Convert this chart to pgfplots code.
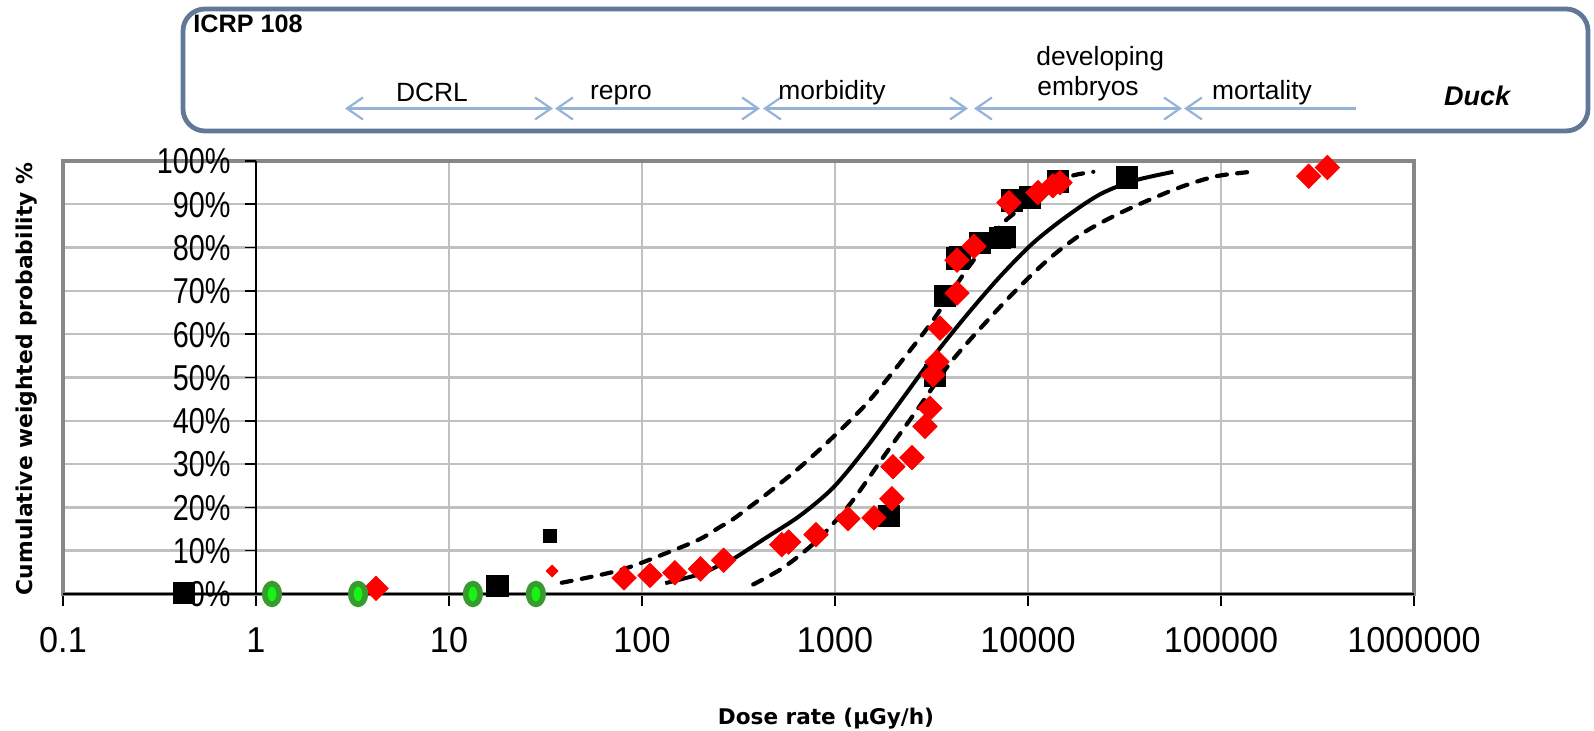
\documentclass[border=0pt]{standalone}
\usepackage{fontspec}
\usepackage{pgfplots}
\pgfplotsset{compat=1.18}
\usetikzlibrary{arrows.meta}
\setmainfont{Liberation Sans}
\newfontfamily\ytickfont[FakeStretch=0.8]{Liberation Sans}
\newfontfamily\xtickfont[FakeStretch=0.95]{Liberation Sans}
\newfontfamily\labelfont{DejaVu Sans}
\definecolor{framegray}{RGB}{135,135,135}
\definecolor{gridgray}{RGB}{192,192,192}
\definecolor{boxblue}{RGB}{98,120,152}
\definecolor{arrowblue}{RGB}{149,179,215}
\definecolor{ringgreen}{RGB}{55,155,45}
\definecolor{limegreen}{RGB}{20,245,20}

\begin{document}
\begin{tikzpicture}
\useasboundingbox (0,0) rectangle (797pt,365.5pt);
\begin{axis}[
  at={(31.5pt,68.5pt)}, anchor=south west,
  scale only axis, width=675.5pt, height=216.5pt,
  xmode=log, xmin=0.1, xmax=1000000, ymin=0, ymax=100,
  xtick={0.1,1,10,100,1000,10000,100000,1000000},
  ytick={0,10,...,100},
  xticklabels={}, yticklabels={},
  xminorticks=false, yminorticks=false,
  xmajorgrids, ymajorgrids,
  major grid style={gridgray, line width=1.2pt},
  axis line style={framegray, line width=2pt},
  tick align=outside, major tick length=6pt,
  xtick pos=left,
  xtick style={black, line width=0.8pt},
  ytick style={draw=none},
  clip=false,
]
% axis lines: x axis at 0 %, y axis at 1
\draw[black, line width=1.3pt] (axis cs:0.1,0) -- (axis cs:1000000,0);
\draw[black, line width=1pt] (axis cs:1,0) -- (axis cs:1,100);

% fitted curve and bounds
\addplot[black, line width=2pt, smooth, no marks] coordinates {
(132,2.5) (200,4.6) (254,6.7) (297,8.1) (443,13.1) (659,18.1) (980,24.6)
(1460,33.9) (2170,44.3) (3230,54.8) (4810,64.4) (7160,73.3) (10650,81.1)
(15850,87.2) (23600,92.3) (35100,95.4) (56600,97.5)};
\addplot[black, line width=2.1pt, smooth, no marks, line cap=round, dash pattern=on 5pt off 5.2pt] coordinates {
(38.4,2.6) (76.9,5.5) (140,9.8) (200,12.7) (254,15.5) (297,17.3) (443,23.1)
(659,29.3) (980,36.3) (1460,44.0) (2170,53.3) (3230,63.3) (4810,74.9)
(7160,84.9) (8740,88.4) (10650,91.9) (15850,96.2) (21800,97.5)};
\addplot[black, line width=2.1pt, smooth, no marks, line cap=round, dash pattern=on 5pt off 5.2pt] coordinates {
(377,2.2) (540,6.1) (804,12.3) (1197,20.8) (1778,31.6) (2650,42.4) (3945,53.3)
(5865,62.1) (8735,70.3) (13000,77.6) (19350,83.4) (28800,87.6) (42900,91.1)
(63800,94.2) (95000,96.5) (144000,97.5)};

% black squares
\addplot[only marks, mark=square*, mark size=5.3pt, black] coordinates {
(0.424,0.3) (17.8,1.9) (1905,18.1) (3297,50.5) (3715,68.9) (4300,77.5) (4446,77.9)
(5640,81.1) (7160,82.3) (7590,82.5) (8260,90.9) (10230,91.6) (14300,95.3) (32600,96.2)};
\addplot[only marks, mark=square*, mark size=3.2pt, black] coordinates {(33.4,13.4)};

% red diamonds
\addplot[only marks, mark=square*, mark size=4.3pt, red, mark options={rotate=45}] coordinates {
(4.19,1.3) (80.7,3.7) (110,4.3) (148,4.9) (201,5.8) (265,7.8) (530,11.4) (575,12.0)
(797,13.7) (1167,17.4) (1592,17.6) (1972,22.0) (1996,29.4) (2504,31.5) (2925,38.7)
(3105,42.9) (3220,50.6) (3377,53.6) (3499,61.4) (4285,69.5) (4285,77.1) (5250,80.3)
(7970,90.4) (11260,92.7) (13450,94.3) (14650,95.0) (284500,96.5) (355600,98.5)};
\addplot[only marks, mark=square*, mark size=2.1pt, red, mark options={rotate=45}] coordinates {(34.2,5.3)};

% green circles
\addplot[only marks, mark=*, mark size=5.2pt, draw=ringgreen, fill=limegreen,
  mark options={xscale=0.7, draw=ringgreen, fill=limegreen, line width=2.8pt, solid}] coordinates {
(1.21,0) (3.38,0) (13.3,0) (28.2,0)};
\end{axis}

\begin{scope}[x=0.5pt, y=-0.5pt, shift={(0pt,365.5pt)}]
% y ticks and tick labels
\foreach \k/\lab in {0/0,1/10,2/20,3/30,4/40,5/50,6/60,7/70,8/80,9/90,10/100}{
  \draw[black, line width=0.8pt] (245,{594-43.3*\k}) -- (256,{594-43.3*\k});
  \node[anchor=base east, inner sep=0, font=\ytickfont\fontsize{18}{18}\selectfont]
    at (231,{594-43.3*\k+12.9}) {\lab\%};
}
\foreach \k/\lab in {0/0.1,1/1,2/10,3/100,4/1000,5/10000,6/100000,7/1000000}
  \node[anchor=base, inner sep=0, font=\xtickfont\fontsize{18}{18}\selectfont]
    at ({63+193*\k},653) {\lab};
% axis titles
\node[rotate=90, anchor=base, inner sep=0, font=\labelfont\bfseries\fontsize{10.9}{11}\selectfont]
  at (33,379) {Cumulative weighted probability \%};
\node[anchor=base, inner sep=0, font=\labelfont\bfseries\fontsize{10.8}{11}\selectfont]
  at (826,725) {Dose rate (µGy/h)};

% ICRP 108 band
\draw[boxblue, line width=2.4pt, rounded corners=11pt] (183,9) rectangle (1588,131);
\node[anchor=base west, inner sep=0, font=\bfseries\fontsize{12.6}{13}\selectfont] at (193,33) {ICRP 108};
\tikzset{band/.style={arrowblue, line width=1.1pt}}
\draw[band, {Straight Barb[length=8pt,width=11pt]}-{Straight Barb[length=8pt,width=11pt]}] (345,108.5) -- (553,108.5);
\draw[band, {Straight Barb[length=8pt,width=11pt]}-{Straight Barb[length=8pt,width=11pt]}] (555,108.5) -- (760,108.5);
\draw[band, {Straight Barb[length=8pt,width=11pt]}-{Straight Barb[length=8pt,width=11pt]}] (763,108.5) -- (968,108.5);
\draw[band, {Straight Barb[length=8pt,width=11pt]}-{Straight Barb[length=8pt,width=11pt]}] (974,108.5) -- (1182,108.5);
\draw[band, {Straight Barb[length=8pt,width=11pt]}-] (1184,108.5) -- (1356,108.5);
\tikzset{bandtxt/.style={anchor=base, inner sep=0, font=\fontsize{13.2}{14}\selectfont}}
\node[bandtxt] at (432,102) {DCRL};
\node[bandtxt] at (621,100) {repro};
\node[bandtxt] at (832,100) {morbidity};
\node[bandtxt, anchor=base west] at (1036,66) {developing};
\node[bandtxt, anchor=base west] at (1037,96) {embryos};
\node[bandtxt] at (1262,100) {mortality};
\node[anchor=base, inner sep=0, font=\bfseries\itshape\fontsize{13.5}{14}\selectfont] at (1477,106) {Duck};
\end{scope}
\end{tikzpicture}
\end{document}
